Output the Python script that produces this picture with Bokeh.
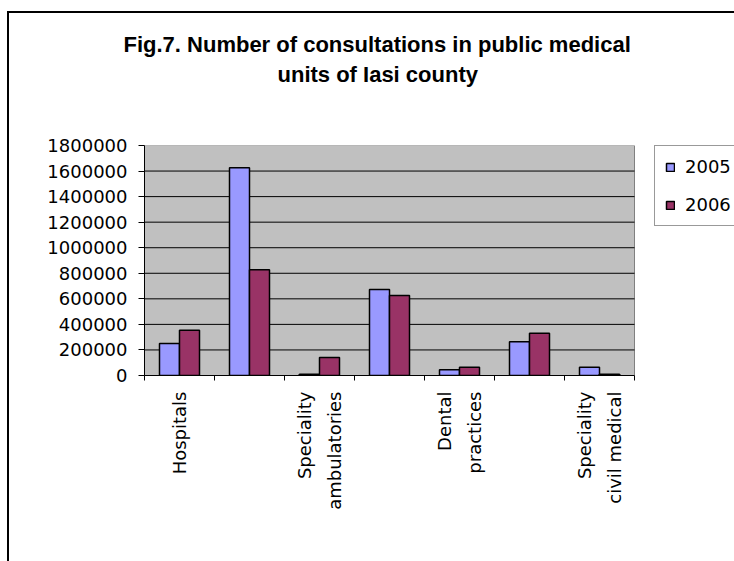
import math
from bokeh.plotting import figure
from bokeh.models import (ColumnDataSource, FixedTicker, NumeralTickFormatter, Range1d,
                          Legend, LegendItem, Title, InlineStyleSheet)
from bokeh.transform import dodge
from bokeh.embed import file_html
from bokeh.resources import INLINE

title_lines = ["Fig.7. Number of consultations in public medical", "units of Iasi county"]
categories = ["Hospitals", "", "Speciality\nambulatories", "", "Dental\npractices", "",
              "Speciality\ncivil medical"]
series_names = ["2005", "2006"]
values_2005 = [250000, 1625000, 10000, 673000, 45000, 265000, 65000]
values_2006 = [355000, 828000, 140000, 626000, 65000, 330000, 10000]
y_ticks = [0, 200000, 400000, 600000, 800000, 1000000, 1200000, 1400000, 1600000, 1800000]
colors = ["#9999FF", "#993366"]

W, H = 734, 561
left_px, plot_px = 144, 490          # plot area starts at 144 px and is 490 px wide
n = len(categories)
x_lo, x_hi = 0.5, n + 0.5
# the frame runs to the right edge of the picture so that the legend can sit there
x_end = x_lo + n * (W - left_px) / plot_px

p = figure(width=W, height=H,
           x_range=Range1d(x_lo, x_end),
           y_range=Range1d(y_ticks[0], y_ticks[-1]),
           output_backend="svg", toolbar_location=None,
           min_border_left=left_px, min_border_right=0,
           min_border_top=145, min_border_bottom=186,
           background_fill_color="white", border_fill_color="white",
           outline_line_color=None)

# outer chart frame (only its top and left edges fall inside the picture)
p.stylesheets = [InlineStyleSheet(css=(
    ":host::after { content: ''; position: absolute; left: 7px; top: 11px; "
    "right: 0px; bottom: 0px; border-top: 2px solid black; border-left: 2px solid black; "
    "pointer-events: none; z-index: 10; }"))]

# grey plot area with its thin grey border
p.quad(left=x_lo, right=x_hi, bottom=y_ticks[0], top=y_ticks[-1],
       fill_color="#C0C0C0", line_color="#808080", line_width=1)
# horizontal gridlines across the plot area
grid_y = y_ticks[1:-1]
p.segment(x0=[x_lo] * len(grid_y), x1=[x_hi] * len(grid_y), y0=grid_y, y1=grid_y,
          line_color="black", line_width=1)

xs = [i + 1 for i in range(n)]
src = ColumnDataSource(dict(x=xs, v2005=values_2005, v2006=values_2006))

bw = 20 / 70
r1 = p.vbar(x=dodge("x", -bw / 2, range=p.x_range), top="v2005", width=bw, source=src,
            fill_color=colors[0], line_color="black", line_width=1.5)
r2 = p.vbar(x=dodge("x", bw / 2, range=p.x_range), top="v2006", width=bw, source=src,
            fill_color=colors[1], line_color="black", line_width=1.5)

# axes
p.xaxis.bounds = (x_lo, x_hi)
p.xaxis.ticker = FixedTicker(ticks=xs, minor_ticks=[x - 0.5 for x in xs] + [xs[-1] + 0.5])
p.xaxis.major_label_overrides = {x: lab for x, lab in zip(xs, categories)}
p.xaxis.major_label_orientation = math.pi / 2
p.xaxis.major_tick_line_color = None
p.xaxis.major_tick_out = 5
p.xaxis.major_tick_in = 0
p.xaxis.minor_tick_line_color = "black"
p.xaxis.minor_tick_out = 5
p.xaxis.minor_tick_in = 0
p.xaxis.major_label_standoff = 11
p.xaxis.major_label_text_font = "DejaVu Sans"
p.xaxis.major_label_text_font_size = "18px"
p.xaxis.major_label_text_color = "black"
p.xaxis.major_label_text_line_height = 1.42
p.xaxis.axis_line_color = "black"

p.yaxis.ticker = FixedTicker(ticks=y_ticks)
p.yaxis.formatter = NumeralTickFormatter(format="0")
p.yaxis.major_tick_out = 6
p.yaxis.major_tick_in = 0
p.yaxis.minor_tick_line_color = None
p.yaxis.major_tick_line_color = "black"
p.yaxis.major_label_standoff = 11
p.yaxis.major_label_text_font = "DejaVu Sans"
p.yaxis.major_label_text_font_size = "18px"
p.yaxis.major_label_text_color = "black"
p.yaxis.axis_line_color = "black"

p.xgrid.visible = False
p.ygrid.visible = False

# legend (its right edge runs off the picture, as in the original)
legend = Legend(items=[LegendItem(label=series_names[0], renderers=[r1]),
                       LegendItem(label=series_names[1], renderers=[r2])],
                location=(510, 149), orientation="vertical",
                border_line_color="#333333", border_line_width=1,
                background_fill_color="white", background_fill_alpha=1,
                label_text_font="DejaVu Sans", label_text_font_size="18px",
                label_text_color="black",
                glyph_width=10, glyph_height=10, label_standoff=10,
                padding=10, margin=0, spacing=17, label_height=20)
p.add_layout(legend, "center")

# title lines stacked above the frame (first added sits nearest the frame)
p.add_layout(Title(text=" ", text_font_size="10px", standoff=46), "above")
p.add_layout(Title(text=title_lines[1], align="left", offset=133, standoff=0,
                   text_font="Liberation Sans", text_font_style="bold",
                   text_font_size="22px", text_color="black"), "above")
p.add_layout(Title(text=title_lines[0], align="left", offset=-21, standoff=6,
                   text_font="Liberation Sans", text_font_style="bold",
                   text_font_size="22px", text_color="black"), "above")

open("out.html", "w").write(file_html(p, INLINE))
